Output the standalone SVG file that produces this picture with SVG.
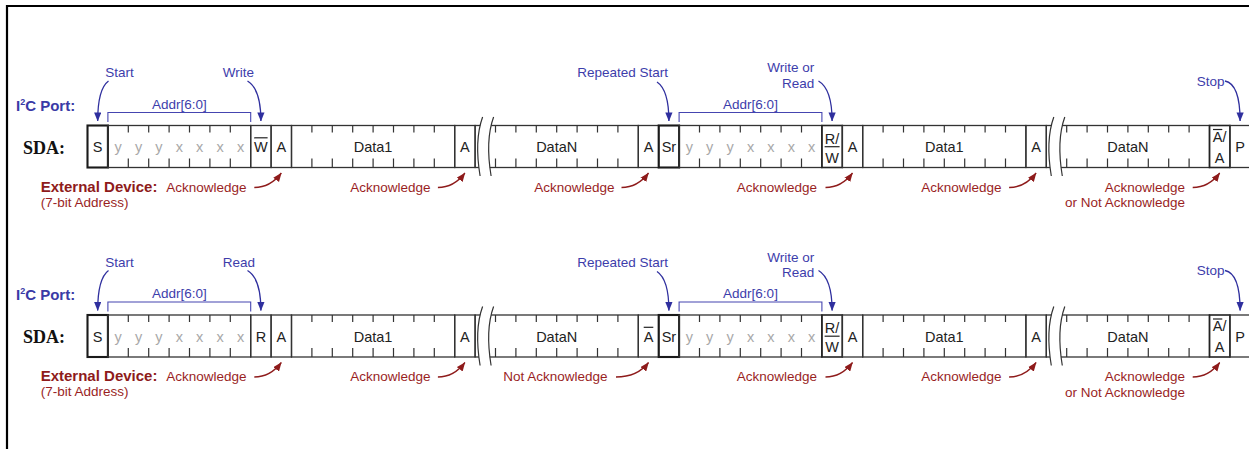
<svg xmlns="http://www.w3.org/2000/svg" width="1249" height="449" viewBox="0 0 1249 449">
<style>
.c{fill:none;stroke:#333;stroke-width:1.3}
.cb{fill:none;stroke:#1a1a1a;stroke-width:2.1}
.cm{fill:none;stroke:#222;stroke-width:1.6}
.tk{fill:none;stroke:#333;stroke-width:1.2}
.t{font-family:"Liberation Sans",Arial,sans-serif;font-size:14.5px;fill:#222;text-anchor:middle}
.bit{fill:#a8a8a8}
.ov{stroke:#222;stroke-width:1.2}
.bl{font-family:"Liberation Sans",Arial,sans-serif;font-size:13.5px;fill:#3d3dab}
.rd{font-family:"Liberation Sans",Arial,sans-serif;font-size:13.5px;fill:#9a1f1f}
.port{font-family:"Liberation Sans",Arial,sans-serif;font-size:15px;font-weight:bold;fill:#3a3aa6}
.ext{font-family:"Liberation Sans",Arial,sans-serif;font-size:15px;font-weight:bold;fill:#8e1b1b}
.sda{font-family:"Liberation Serif","Times New Roman",serif;font-size:18px;font-weight:bold;fill:#111}
.brk{fill:#fff;stroke:none}
.brkl{fill:none;stroke:#333;stroke-width:1.2}
.br{fill:none;stroke:#4545b0;stroke-width:1.1}
.ba{fill:none;stroke:#2f2f9e;stroke-width:1.3;marker-end:url(#ab)}
.ra{fill:none;stroke:#8e1b1b;stroke-width:1.3;marker-end:url(#ar)}
</style>
<defs>
<marker id="ab" viewBox="0 0 10 8" refX="9.5" refY="4" markerWidth="9" markerHeight="7.5" markerUnits="userSpaceOnUse" orient="auto"><path d="M0,0 L10,4 L0,8 z" fill="#2f2f9e"/></marker>
<marker id="ar" viewBox="0 0 10 8" refX="9.5" refY="4" markerWidth="9" markerHeight="7.5" markerUnits="userSpaceOnUse" orient="auto"><path d="M0,0 L10,4 L0,8 z" fill="#8e1b1b"/></marker>
</defs>
<rect x="0" y="0" width="1249" height="449" fill="#fff"/>
<path d="M7,449 V6 H1249" fill="none" stroke="#000" stroke-width="2.2"/>

<!-- ROW 1 -->
<g id="row1">
<g id="r1-labels">
<text class="port" x="16" y="110.5">I<tspan font-size="9" dy="-6">2</tspan><tspan dy="6">C Port:</tspan></text>
<text class="sda" x="23" y="153.5">SDA:</text>
<text class="ext" x="40.7" y="191.5">External Device:</text>
<text class="rd" x="40.7" y="206.5">(7-bit Address)</text>
</g>
<g id="r1-S"><rect class="cb" x="87.5" y="125.5" width="20.4" height="42"/><text class="t" x="97.7" y="152">S</text><text class="bl" x="105.3" y="77">Start</text></g>
<g id="r1-addr"><rect class="c" x="107.9" y="125.5" width="142.8" height="42"/>
<path class="tk" d="M128.3,125.5v7M148.7,125.5v7M169.1,125.5v7M189.5,125.5v7M209.9,125.5v7M230.3,125.5v7M128.3,167.5v-9M148.7,167.5v-9M169.1,167.5v-9M189.5,167.5v-9M209.9,167.5v-9M230.3,167.5v-9"/>
<text class="t bit" x="118.1" y="152">y</text><text class="t bit" x="138.5" y="152">y</text><text class="t bit" x="158.9" y="152">y</text><text class="t bit" x="179.3" y="152">x</text><text class="t bit" x="199.7" y="152">x</text><text class="t bit" x="220.1" y="152">x</text><text class="t bit" x="240.5" y="152">x</text>
<path class="br" d="M107.9,122 V112.5 H250.7 V122"/><text class="bl" x="179.3" y="108.5" text-anchor="middle">Addr[6:0]</text></g>
<g id="r1-rw"><rect class="c" x="250.7" y="125.5" width="20.4" height="42"/><text class="t" x="260.9" y="152">W</text><line class="ov" x1="254.2" y1="137.8" x2="267.6" y2="137.8"/><text class="bl" x="222.7" y="77">Write</text></g>
<g id="r1-a1"><rect class="c" x="271.1" y="125.5" width="20.4" height="42"/><text class="t" x="281.3" y="152">A</text><text class="rd" x="246.5" y="191.5" text-anchor="end">Acknowledge</text></g>
<g id="r1-data1"><rect class="c" x="291.5" y="125.5" width="163.2" height="42"/>
<path class="tk" d="M311.9,125.5v7M332.3,125.5v7M352.7,125.5v7M373.1,125.5v7M393.5,125.5v7M413.9,125.5v7M434.3,125.5v7M311.9,167.5v-9M332.3,167.5v-9M352.7,167.5v-9M373.1,167.5v-9M393.5,167.5v-9M413.9,167.5v-9M434.3,167.5v-9"/>
<text class="t" x="373.1" y="152">Data1</text></g>
<g id="r1-a2"><rect class="c" x="454.7" y="125.5" width="20.4" height="42"/><text class="t" x="464.9" y="152">A</text><text class="rd" x="430.5" y="191.5" text-anchor="end">Acknowledge</text></g>
<g id="r1-dataN"><rect class="c" x="475.1" y="125.5" width="163.2" height="42"/>
<path class="tk" d="M495.5,125.5v7M515.9,125.5v7M536.3,125.5v7M556.7,125.5v7M577.1,125.5v7M597.5,125.5v7M617.9,125.5v7M495.5,167.5v-9M515.9,167.5v-9M536.3,167.5v-9M556.7,167.5v-9M577.1,167.5v-9M597.5,167.5v-9M617.9,167.5v-9"/>
<path class="brk" d="M482.6,117 C476.1,135 477.1,158 480.1,176 L491.1,176 C488.1,158 487.1,135 493.6,117 Z"/>
<path class="brkl" d="M482.6,117 C476.1,135 477.1,158 480.1,176 M493.6,117 C487.1,135 488.1,158 491.1,176"/>
<text class="t" x="556.7" y="152">DataN</text></g>
<g id="r1-a3"><rect class="c" x="638.3" y="125.5" width="20.4" height="42"/><text class="t" x="648.5" y="152">A</text><text class="rd" x="614.5" y="191.5" text-anchor="end">Acknowledge</text></g>
<g id="r1-Sr"><rect class="cb" x="658.7" y="125.5" width="20.4" height="42"/><text class="t" x="668.9" y="152">Sr</text><text class="bl" x="577.3" y="77">Repeated Start</text></g>
<g id="r1-addr2"><rect class="c" x="679.1" y="125.5" width="142.8" height="42"/>
<path class="tk" d="M699.5,125.5v7M719.9,125.5v7M740.3,125.5v7M760.7,125.5v7M781.1,125.5v7M801.5,125.5v7M699.5,167.5v-9M719.9,167.5v-9M740.3,167.5v-9M760.7,167.5v-9M781.1,167.5v-9M801.5,167.5v-9"/>
<text class="t bit" x="689.3" y="152">y</text><text class="t bit" x="709.7" y="152">y</text><text class="t bit" x="730.1" y="152">y</text><text class="t bit" x="750.5" y="152">x</text><text class="t bit" x="770.9" y="152">x</text><text class="t bit" x="791.3" y="152">x</text><text class="t bit" x="811.7" y="152">x</text>
<path class="br" d="M679.1,122 V112.5 H821.9 V122"/><text class="bl" x="750.5" y="108.5" text-anchor="middle">Addr[6:0]</text></g>
<g id="r1-rw2"><rect class="cm" x="821.9" y="125.5" width="20.4" height="42"/><text class="t" x="832.1" y="143.5">R/</text><line class="ov" x1="824.6" y1="146.7" x2="839.6" y2="146.7"/><text class="t" x="832.1" y="162.5">W</text>
<text class="bl" x="814.3" y="72" text-anchor="end">Write or</text><text class="bl" x="814.3" y="87.5" text-anchor="end">Read</text></g>
<g id="r1-a4"><rect class="c" x="842.3" y="125.5" width="20.4" height="42"/><text class="t" x="852.5" y="152">A</text><text class="rd" x="817" y="191.5" text-anchor="end">Acknowledge</text></g>
<g id="r1-data1b"><rect class="c" x="862.7" y="125.5" width="163.2" height="42"/>
<path class="tk" d="M883.1,125.5v7M903.5,125.5v7M923.9,125.5v7M944.3,125.5v7M964.7,125.5v7M985.1,125.5v7M1005.5,125.5v7M883.1,167.5v-9M903.5,167.5v-9M923.9,167.5v-9M944.3,167.5v-9M964.7,167.5v-9M985.1,167.5v-9M1005.5,167.5v-9"/>
<text class="t" x="944.3" y="152">Data1</text></g>
<g id="r1-a5"><rect class="c" x="1025.9" y="125.5" width="20.4" height="42"/><text class="t" x="1036.1" y="152">A</text><text class="rd" x="1001.5" y="191.5" text-anchor="end">Acknowledge</text></g>
<g id="r1-dataNb"><rect class="c" x="1046.3" y="125.5" width="163.2" height="42"/>
<path class="tk" d="M1066.7,125.5v7M1087.1,125.5v7M1107.5,125.5v7M1127.9,125.5v7M1148.3,125.5v7M1168.7,125.5v7M1189.1,125.5v7M1066.7,167.5v-9M1087.1,167.5v-9M1107.5,167.5v-9M1127.9,167.5v-9M1148.3,167.5v-9M1168.7,167.5v-9M1189.1,167.5v-9"/>
<path class="brk" d="M1053.8,117 C1047.3,135 1048.3,158 1051.3,176 L1062.3,176 C1059.3,158 1058.3,135 1064.8,117 Z"/>
<path class="brkl" d="M1053.8,117 C1047.3,135 1048.3,158 1051.3,176 M1064.8,117 C1058.3,135 1059.3,158 1062.3,176"/>
<text class="t" x="1127.9" y="152">DataN</text></g>
<g id="r1-nack"><rect class="cm" x="1209.5" y="125.5" width="20.4" height="42"/><text class="t" x="1219.7" y="141.5">A/</text><line class="ov" x1="1213" y1="129.5" x2="1222.3" y2="129.5"/><text class="t" x="1219.7" y="162.5">A</text>
<text class="rd" x="1185" y="191.5" text-anchor="end">Acknowledge</text><text class="rd" x="1185" y="207" text-anchor="end">or Not Acknowledge</text></g>
<g id="r1-P"><rect class="c" x="1229.9" y="125.5" width="22" height="42"/><text class="t" x="1240.1" y="152">P</text><text class="bl" x="1196.7" y="85.5">Stop</text></g>
</g>

<!-- ROW 2 -->
<g id="row2" transform="translate(0,189.5)">
<g id="r2-labels">
<text class="port" x="16" y="110.5">I<tspan font-size="9" dy="-6">2</tspan><tspan dy="6">C Port:</tspan></text>
<text class="sda" x="23" y="153.5">SDA:</text>
<text class="ext" x="40.7" y="191.5">External Device:</text>
<text class="rd" x="40.7" y="206.5">(7-bit Address)</text>
</g>
<g id="r2-S"><rect class="cb" x="87.5" y="125.5" width="20.4" height="42"/><text class="t" x="97.7" y="152">S</text><text class="bl" x="105.3" y="77">Start</text></g>
<g id="r2-addr"><rect class="c" x="107.9" y="125.5" width="142.8" height="42"/>
<path class="tk" d="M128.3,125.5v7M148.7,125.5v7M169.1,125.5v7M189.5,125.5v7M209.9,125.5v7M230.3,125.5v7M128.3,167.5v-9M148.7,167.5v-9M169.1,167.5v-9M189.5,167.5v-9M209.9,167.5v-9M230.3,167.5v-9"/>
<text class="t bit" x="118.1" y="152">y</text><text class="t bit" x="138.5" y="152">y</text><text class="t bit" x="158.9" y="152">y</text><text class="t bit" x="179.3" y="152">x</text><text class="t bit" x="199.7" y="152">x</text><text class="t bit" x="220.1" y="152">x</text><text class="t bit" x="240.5" y="152">x</text>
<path class="br" d="M107.9,122 V112.5 H250.7 V122"/><text class="bl" x="179.3" y="108.5" text-anchor="middle">Addr[6:0]</text></g>
<g id="r2-rw"><rect class="c" x="250.7" y="125.5" width="20.4" height="42"/><text class="t" x="260.9" y="152">R</text><text class="bl" x="222.7" y="77">Read</text></g>
<g id="r2-a1"><rect class="c" x="271.1" y="125.5" width="20.4" height="42"/><text class="t" x="281.3" y="152">A</text><text class="rd" x="246.5" y="191.5" text-anchor="end">Acknowledge</text></g>
<g id="r2-data1"><rect class="c" x="291.5" y="125.5" width="163.2" height="42"/>
<path class="tk" d="M311.9,125.5v7M332.3,125.5v7M352.7,125.5v7M373.1,125.5v7M393.5,125.5v7M413.9,125.5v7M434.3,125.5v7M311.9,167.5v-9M332.3,167.5v-9M352.7,167.5v-9M373.1,167.5v-9M393.5,167.5v-9M413.9,167.5v-9M434.3,167.5v-9"/>
<text class="t" x="373.1" y="152">Data1</text></g>
<g id="r2-a2"><rect class="c" x="454.7" y="125.5" width="20.4" height="42"/><text class="t" x="464.9" y="152">A</text><text class="rd" x="430.5" y="191.5" text-anchor="end">Acknowledge</text></g>
<g id="r2-dataN"><rect class="c" x="475.1" y="125.5" width="163.2" height="42"/>
<path class="tk" d="M495.5,125.5v7M515.9,125.5v7M536.3,125.5v7M556.7,125.5v7M577.1,125.5v7M597.5,125.5v7M617.9,125.5v7M495.5,167.5v-9M515.9,167.5v-9M536.3,167.5v-9M556.7,167.5v-9M577.1,167.5v-9M597.5,167.5v-9M617.9,167.5v-9"/>
<path class="brk" d="M482.6,117 C476.1,135 477.1,158 480.1,176 L491.1,176 C488.1,158 487.1,135 493.6,117 Z"/>
<path class="brkl" d="M482.6,117 C476.1,135 477.1,158 480.1,176 M493.6,117 C487.1,135 488.1,158 491.1,176"/>
<text class="t" x="556.7" y="152">DataN</text></g>
<g id="r2-nack1"><rect class="c" x="638.3" y="125.5" width="20.4" height="42"/><text class="t" x="648.5" y="152">A</text><line class="ov" x1="643.7" y1="137.8" x2="653.3" y2="137.8"/><text class="rd" x="607.5" y="191.5" text-anchor="end">Not Acknowledge</text></g>
<g id="r2-Sr"><rect class="cb" x="658.7" y="125.5" width="20.4" height="42"/><text class="t" x="668.9" y="152">Sr</text><text class="bl" x="577.3" y="77">Repeated Start</text></g>
<g id="r2-addr2"><rect class="c" x="679.1" y="125.5" width="142.8" height="42"/>
<path class="tk" d="M699.5,125.5v7M719.9,125.5v7M740.3,125.5v7M760.7,125.5v7M781.1,125.5v7M801.5,125.5v7M699.5,167.5v-9M719.9,167.5v-9M740.3,167.5v-9M760.7,167.5v-9M781.1,167.5v-9M801.5,167.5v-9"/>
<text class="t bit" x="689.3" y="152">y</text><text class="t bit" x="709.7" y="152">y</text><text class="t bit" x="730.1" y="152">y</text><text class="t bit" x="750.5" y="152">x</text><text class="t bit" x="770.9" y="152">x</text><text class="t bit" x="791.3" y="152">x</text><text class="t bit" x="811.7" y="152">x</text>
<path class="br" d="M679.1,122 V112.5 H821.9 V122"/><text class="bl" x="750.5" y="108.5" text-anchor="middle">Addr[6:0]</text></g>
<g id="r2-rw2"><rect class="cm" x="821.9" y="125.5" width="20.4" height="42"/><text class="t" x="832.1" y="143.5">R/</text><line class="ov" x1="824.6" y1="146.7" x2="839.6" y2="146.7"/><text class="t" x="832.1" y="162.5">W</text>
<text class="bl" x="814.3" y="72" text-anchor="end">Write or</text><text class="bl" x="814.3" y="87.5" text-anchor="end">Read</text></g>
<g id="r2-a4"><rect class="c" x="842.3" y="125.5" width="20.4" height="42"/><text class="t" x="852.5" y="152">A</text><text class="rd" x="817" y="191.5" text-anchor="end">Acknowledge</text></g>
<g id="r2-data1b"><rect class="c" x="862.7" y="125.5" width="163.2" height="42"/>
<path class="tk" d="M883.1,125.5v7M903.5,125.5v7M923.9,125.5v7M944.3,125.5v7M964.7,125.5v7M985.1,125.5v7M1005.5,125.5v7M883.1,167.5v-9M903.5,167.5v-9M923.9,167.5v-9M944.3,167.5v-9M964.7,167.5v-9M985.1,167.5v-9M1005.5,167.5v-9"/>
<text class="t" x="944.3" y="152">Data1</text></g>
<g id="r2-a5"><rect class="c" x="1025.9" y="125.5" width="20.4" height="42"/><text class="t" x="1036.1" y="152">A</text><text class="rd" x="1001.5" y="191.5" text-anchor="end">Acknowledge</text></g>
<g id="r2-dataNb"><rect class="c" x="1046.3" y="125.5" width="163.2" height="42"/>
<path class="tk" d="M1066.7,125.5v7M1087.1,125.5v7M1107.5,125.5v7M1127.9,125.5v7M1148.3,125.5v7M1168.7,125.5v7M1189.1,125.5v7M1066.7,167.5v-9M1087.1,167.5v-9M1107.5,167.5v-9M1127.9,167.5v-9M1148.3,167.5v-9M1168.7,167.5v-9M1189.1,167.5v-9"/>
<path class="brk" d="M1053.8,117 C1047.3,135 1048.3,158 1051.3,176 L1062.3,176 C1059.3,158 1058.3,135 1064.8,117 Z"/>
<path class="brkl" d="M1053.8,117 C1047.3,135 1048.3,158 1051.3,176 M1064.8,117 C1058.3,135 1059.3,158 1062.3,176"/>
<text class="t" x="1127.9" y="152">DataN</text></g>
<g id="r2-nack"><rect class="cm" x="1209.5" y="125.5" width="20.4" height="42"/><text class="t" x="1219.7" y="141.5">A/</text><line class="ov" x1="1213" y1="129.5" x2="1222.3" y2="129.5"/><text class="t" x="1219.7" y="162.5">A</text>
<text class="rd" x="1185" y="191.5" text-anchor="end">Acknowledge</text><text class="rd" x="1185" y="207" text-anchor="end">or Not Acknowledge</text></g>
<g id="r2-P"><rect class="c" x="1229.9" y="125.5" width="22" height="42"/><text class="t" x="1240.1" y="152">P</text><text class="bl" x="1196.7" y="85.5">Stop</text></g>
</g>

<g id="connectors">
<g id="c-row1">
<path class="ba" d="M108.5,81 Q97.7,89 97.7,121"/>
<path class="ba" d="M247.5,81 Q260.9,89 260.9,121"/>
<path class="ba" d="M657,82 Q668.9,90 668.9,121"/>
<path class="ba" d="M818.5,81 Q832.1,89 832.1,121"/>
<path class="ba" d="M1225,81 Q1240.1,84 1240.1,121"/>
<path class="ra" d="M254.3,187.5 Q270.3,187.5 281.3,173"/>
<path class="ra" d="M437.9,187.5 Q453.9,187.5 464.9,173"/>
<path class="ra" d="M621.5,187.5 Q637.5,187.5 648.5,173"/>
<path class="ra" d="M825.5,187.5 Q841.5,187.5 852.5,173"/>
<path class="ra" d="M1009.1,187.5 Q1025.1,187.5 1036.1,173"/>
<path class="ra" d="M1192.7,187.5 Q1208.7,187.5 1219.7,173"/>
</g>
<g id="c-row2" transform="translate(0,189.5)">
<path class="ba" d="M108.5,81 Q97.7,89 97.7,121"/>
<path class="ba" d="M247.5,81 Q260.9,89 260.9,121"/>
<path class="ba" d="M657,82 Q668.9,90 668.9,121"/>
<path class="ba" d="M818.5,81 Q832.1,89 832.1,121"/>
<path class="ba" d="M1225,81 Q1240.1,84 1240.1,121"/>
<path class="ra" d="M254.3,187.5 Q270.3,187.5 281.3,173"/>
<path class="ra" d="M437.9,187.5 Q453.9,187.5 464.9,173"/>
<path class="ra" d="M616,187.5 Q637.5,187.5 648.5,173"/>
<path class="ra" d="M825.5,187.5 Q841.5,187.5 852.5,173"/>
<path class="ra" d="M1009.1,187.5 Q1025.1,187.5 1036.1,173"/>
<path class="ra" d="M1192.7,187.5 Q1208.7,187.5 1219.7,173"/>
</g>
</g>
</svg>
